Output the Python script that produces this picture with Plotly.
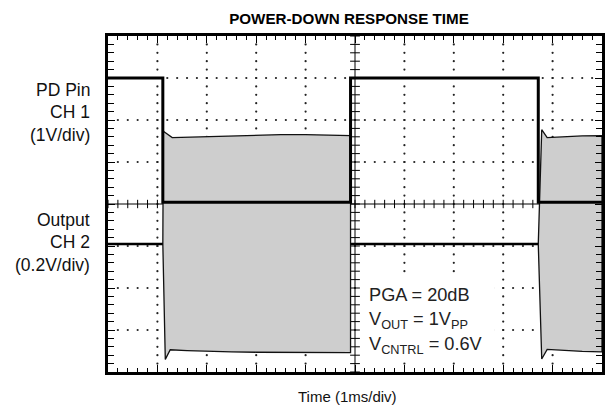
import numpy as np
import plotly.graph_objects as go

# Screen divisions: 10 horizontal (1 ms/div), 8 vertical (centre = 0)
X_DIVS = 10
Y_DIVS = 8

# CH1: PD pin logic level (div)
pd_t = [0.0, 1.11, 1.11, 4.91, 4.91, 8.71, 8.71, 10.0]
pd_v = [3.0, 3.0, 0.04, 0.04, 3.0, 3.0, 0.04, 0.04]

# CH2: output while powered down (flat level, div)
off_t = [0.0, 1.11, None, 4.91, 8.71]
off_v = [-0.955, -0.955, None, -0.955, -0.955]

# CH2: envelope of the 1Vpp output while active (burst 1)
b1_up_t = [1.11, 1.12, 1.30, 1.6, 2.0, 2.5, 3.0, 3.5, 4.0, 4.5, 4.91]
b1_up_v = [-0.955, 1.73, 1.58, 1.59, 1.61, 1.63, 1.64, 1.65, 1.65, 1.64, 1.63]
b1_lo_t = [1.11, 1.16, 1.26, 1.6, 2.0, 2.5, 3.0, 3.5, 4.0, 4.5, 4.91]
b1_lo_v = [-0.955, -3.70, -3.47, -3.49, -3.51, -3.52, -3.53, -3.53, -3.54, -3.54, -3.54]

# burst 2 (continues past the right edge)
b2_up_t = [8.71, 8.78, 8.89, 9.2, 9.6, 10.0]
b2_up_v = [-0.955, 1.77, 1.58, 1.60, 1.62, 1.63]
b2_lo_t = [8.71, 8.78, 8.89, 9.2, 9.6, 10.0]
b2_lo_v = [-0.955, -3.69, -3.46, -3.49, -3.51, -3.52]

left_labels_ch1 = ["PD Pin", "CH 1", "(1V/div)"]
left_labels_ch2 = ["Output", "CH 2", "(0.2V/div)"]
note_lines = ["PGA = 20dB", "V<sub>OUT</sub> = 1V<sub>PP</sub>", "V<sub>CNTRL</sub> = 0.6V"]

FONT = "Liberation Sans, Arial, Helvetica, sans-serif"
W, H = 606, 412
L, R, T, B = 108, 1, 36, 40
PW, PH = W - L - R, H - T - B

fig = go.Figure()

# dotted graticule: a dot every minor step along each major division line
minor = np.round(np.arange(0, X_DIVS + 1e-9, 0.2), 3)
minor_y = np.round(np.arange(-Y_DIVS / 2, Y_DIVS / 2 + 1e-9, 0.2), 3)
gx, gy = [], []
for j in range(-3, 4):
    if j == 0:
        continue
    for m in minor[1:-1]:
        gx.append(m)
        gy.append(j)
for i in range(1, X_DIVS):
    if i == 5:
        continue
    for m in minor_y[1:-1]:
        gx.append(i)
        gy.append(m)
fig.add_trace(go.Scatter(x=gx, y=gy, mode="markers",
                         marker=dict(size=2.2, color="#222"),
                         hoverinfo="skip", showlegend=False))

# centre crosshair with graduated ticks
fig.add_trace(go.Scatter(x=[0, X_DIVS, None, 5, 5], y=[0, 0, None, -4, 4],
                         mode="lines", line=dict(color="black", width=1),
                         hoverinfo="skip", showlegend=False))
fig.add_trace(go.Scatter(x=minor, y=[0] * len(minor), mode="markers",
                         marker=dict(symbol="line-ns", size=6,
                                     line=dict(color="black", width=1)),
                         hoverinfo="skip", showlegend=False))
fig.add_trace(go.Scatter(x=[5] * len(minor_y), y=minor_y, mode="markers",
                         marker=dict(symbol="line-ew", size=7,
                                     line=dict(color="black", width=1)),
                         hoverinfo="skip", showlegend=False))

# active output bursts (filled envelope)
for up_t, up_v, lo_t, lo_v in [(b1_up_t, b1_up_v, b1_lo_t, b1_lo_v),
                               (b2_up_t, b2_up_v, b2_lo_t, b2_lo_v)]:
    fig.add_trace(go.Scatter(x=up_t + lo_t[::-1], y=up_v + lo_v[::-1],
                             mode="lines", fill="toself", fillcolor="#cecece",
                             line=dict(color="#111", width=1.3),
                             hoverinfo="skip", showlegend=False))

# powered-down output level
fig.add_trace(go.Scatter(x=off_t, y=off_v, mode="lines",
                         line=dict(color="black", width=2.5),
                         hoverinfo="skip", showlegend=False, connectgaps=False))

# PD pin
fig.add_trace(go.Scatter(x=pd_t, y=pd_v, mode="lines",
                         line=dict(color="black", width=3),
                         hoverinfo="skip", showlegend=False))

axis_common = dict(showgrid=False, zeroline=False, showticklabels=False,
                   showline=True, linecolor="black", linewidth=3,
                   mirror="allticks", ticks="inside", tickcolor="black")

fig.update_xaxes(range=[0, X_DIVS], dtick=1, tick0=0, ticklen=7, tickwidth=1.2,
                 minor=dict(dtick=0.2, ticklen=4, ticks="inside",
                            tickcolor="black", tickwidth=1.2),
                 **axis_common)
fig.update_yaxes(range=[-Y_DIVS / 2, Y_DIVS / 2], dtick=1, tick0=0, ticklen=7,
                 tickwidth=1.2,
                 minor=dict(dtick=0.2, ticklen=6, ticks="inside",
                            tickcolor="black", tickwidth=1.2),
                 **axis_common)

# white panel behind the test conditions
fig.add_shape(type="rect", x0=5.13, x1=7.83, y0=-3.74, y1=-1.68,
              xref="x", yref="y", fillcolor="white", line=dict(width=0),
              layer="above")

annotations = []
for txt, yv in zip(note_lines, [-2.17, -2.78, -3.37]):
    annotations.append(dict(x=5.25, y=yv, xref="x", yref="y", text=txt,
                            showarrow=False, xanchor="left", yanchor="middle",
                            font=dict(family=FONT, size=18.2, color="#222")))

for txt, ypx in zip(left_labels_ch1 + left_labels_ch2,
                    [90.3, 112.3, 134.6, 220.5, 242.5, 264.8]):
    annotations.append(dict(x=(92 - L) / PW, y=(H - B - ypx) / PH,
                            xref="paper", yref="paper", text=txt,
                            showarrow=False, xanchor="right", yanchor="middle",
                            font=dict(family=FONT, size=17.5, color="#111")))

annotations.append(dict(x=(349 - L) / PW, y=(H - B - 396) / PH,
                        xref="paper", yref="paper",
                        text="Time (1ms/div)", showarrow=False,
                        xanchor="center", yanchor="middle",
                        font=dict(family=FONT, size=15, color="#111")))

fig.update_layout(
    width=W, height=H,
    margin=dict(l=L, r=R, t=T, b=B, pad=0),
    paper_bgcolor="white", plot_bgcolor="white",
    title=dict(text="<b>POWER-DOWN RESPONSE TIME</b>", x=349 / W, xref="container",
               xanchor="center", y=1 - 19 / H, yref="container", yanchor="middle",
               font=dict(family=FONT, size=15.2, color="black")),
    annotations=annotations,
    showlegend=False,
)

fig.write_html("out.html")
